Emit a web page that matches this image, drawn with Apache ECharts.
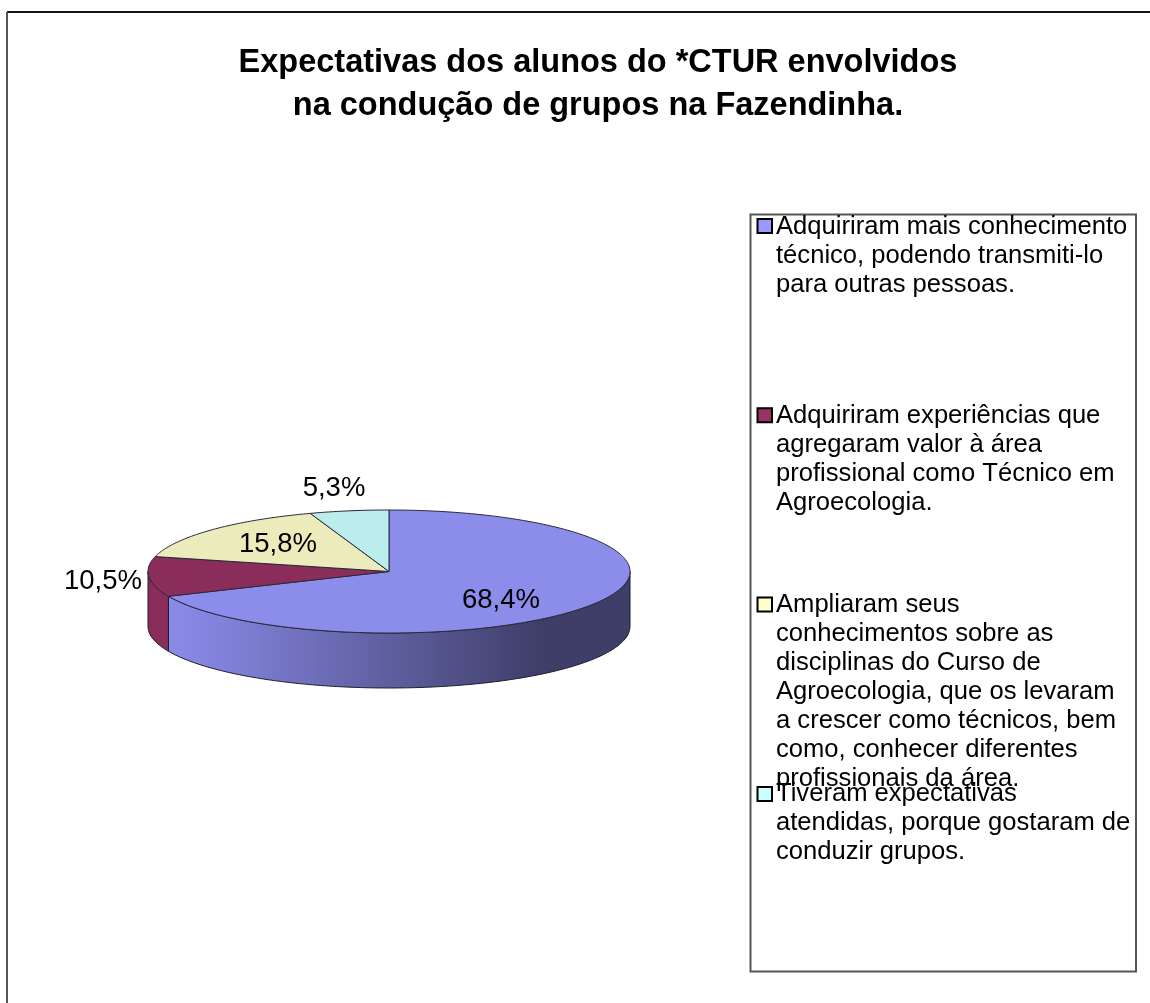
<!DOCTYPE html>
<html>
<head>
<meta charset="utf-8">
<style>
  html, body { margin: 0; padding: 0; background: #fff; }
  #main { width: 1150px; height: 1003px; }
</style>
<script src="https://cdn.jsdelivr.net/npm/echarts@6/dist/echarts.min.js"></script>
</head>
<body>
<div id="main"></div>
<script>
var titleText = 'Expectativas dos alunos do *CTUR envolvidos\nna condução de grupos na Fazendinha.';
var values = [68.4, 10.5, 15.8, 5.3];
var legendLines = [
  'Adquiriram mais conhecimento\ntécnico, podendo transmiti-lo\npara outras pessoas.',
  'Adquiriram experiências que\nagregaram valor à área\nprofissional como Técnico em\nAgroecologia.',
  'Ampliaram seus\nconhecimentos sobre as\ndisciplinas do Curso de\nAgroecologia, que os levaram\na crescer como técnicos, bem\ncomo, conhecer diferentes\nprofissionais da área.',
  'Tiveram expectativas\natendidas, porque gostaram de\nconduzir grupos.'
];
var topColors = ['#8c8ceb', '#8b2d5a', '#ebebbb', '#bbeded'];
var markerColors = ['#9999ff', '#993366', '#ffffcc', '#ccffff'];

var font = '"Liberation Sans", Arial, sans-serif';
var cx = 389, cy = 571.5, rx = 241, ry = 61.5, depth = 55;
var labelPos = [[501, 600], [103, 581], [278, 544], [334, 488]];
var total = values.reduce(function (a, b) { return a + b; }, 0);

// angle is clockwise from 12 o'clock, in degrees
function rim(deg, dy) {
  var r = deg * Math.PI / 180;
  return [cx + rx * Math.sin(r), cy - ry * Math.cos(r) + (dy || 0)];
}

function arcPoints(from, to, dy) {
  var pts = [];
  var n = Math.max(2, Math.ceil(Math.abs(to - from)));
  for (var i = 0; i <= n; i++) {
    pts.push(rim(from + (to - from) * i / n, dy));
  }
  return pts;
}

var wallFill = new echarts.graphic.LinearGradient(148, 0, 630, 0, [
  { offset: 0, color: '#8c8ceb' },
  { offset: 0.12, color: '#8585e0' },
  { offset: 0.82, color: '#3e3e68' },
  { offset: 1, color: '#3e3e68' }
], true);

function renderSlice(params, api) {
  var idx = params.dataIndex;
  var start = 0;
  for (var i = 0; i < idx; i++) { start += values[i]; }
  var a0 = start / total * 360;
  var a1 = a0 + api.value(0) / total * 360;
  var children = [];

  // side wall, only the part that faces the viewer (90..270 deg)
  var w0 = Math.max(a0, 90), w1 = Math.min(a1, 270);
  if (w1 > w0) {
    children.push({
      type: 'polygon',
      z2: 1,
      shape: { points: arcPoints(w0, w1, 0).concat(arcPoints(w1, w0, depth)) },
      style: {
        fill: idx === 0 ? wallFill : topColors[idx],
        stroke: '#1c1c2c',
        lineWidth: 1
      }
    });
  }

  children.push({
    type: 'polygon',
    z2: 2,
    shape: { points: [[cx, cy]].concat(arcPoints(a0, a1, 0)) },
    style: { fill: topColors[idx], stroke: '#2a2a3a', lineWidth: 1 }
  });

  children.push({
    type: 'text',
    z2: 3,
    style: {
      text: api.value(0).toFixed(1).replace('.', ',') + '%',
      x: labelPos[idx][0],
      y: labelPos[idx][1],
      align: 'center',
      verticalAlign: 'middle',
      font: '27.5px ' + font,
      fill: '#000'
    }
  });
  return { type: 'group', children: children };
}

var legendGraphics = [{
  type: 'rect',
  shape: { x: 750.5, y: 214.5, width: 385.5, height: 757 },
  style: { fill: '#fff', stroke: '#555', lineWidth: 2 },
  z: 1
}];
legendLines.forEach(function (txt, i) {
  legendGraphics.push({
    type: 'rect',
    shape: { x: 757.5, y: 219 + 189.3 * i, width: 14.5, height: 14 },
    style: { fill: markerColors[i], stroke: '#000', lineWidth: 2 },
    z: 2
  });
  legendGraphics.push({
    type: 'text',
    x: 776,
    y: 212 + 189.1 * i,
    style: {
      text: txt,
      font: '25.6px ' + font,
      lineHeight: 29,
      fill: '#000'
    },
    z: 3
  });
});

var frame = [
  { type: 'line', shape: { x1: 7, y1: 12, x2: 1150, y2: 12 }, style: { stroke: '#111', lineWidth: 2 }, z: 1 },
  { type: 'line', shape: { x1: 7, y1: 12, x2: 7, y2: 1003 }, style: { stroke: '#555', lineWidth: 2 }, z: 1 }
];

var chart = echarts.init(document.getElementById('main'));
chart.setOption({
  animation: false,
  backgroundColor: '#fff',
  title: {
    text: titleText,
    left: 593,
    top: 36.5,
    textAlign: 'center',
    textStyle: {
      fontFamily: font,
      fontWeight: 'bold',
      fontSize: 32.5,
      lineHeight: 43,
      color: '#000'
    }
  },
  graphic: { elements: frame.concat(legendGraphics) },
  series: [{
    type: 'custom',
    coordinateSystem: 'none',
    silent: true,
    data: values.map(function (v) { return [v]; }),
    renderItem: renderSlice
  }]
});
</script>
</body>
</html>
